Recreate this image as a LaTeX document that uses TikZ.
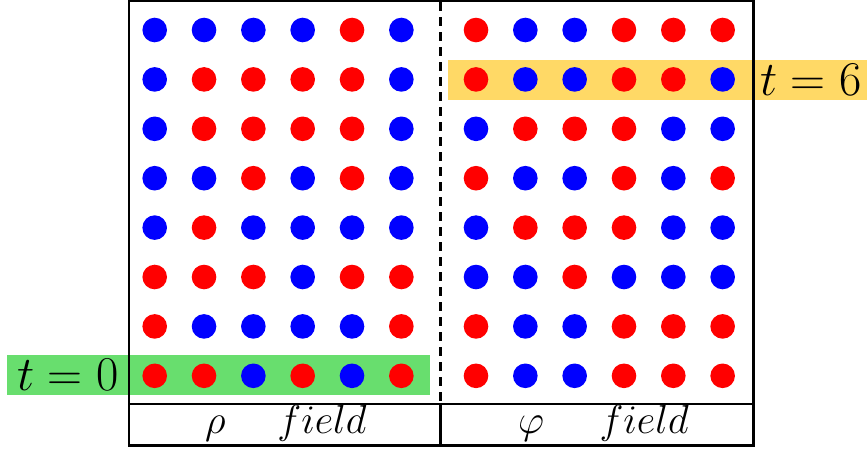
\documentclass[tikz,border=0pt]{standalone}
\usepackage{fix-cm}
\usetikzlibrary{calc}
\definecolor{dotR}{RGB}{255,0,0}
\definecolor{dotB}{RGB}{0,0,255}
\definecolor{bandgreen}{RGB}{104,222,110}
\definecolor{bandyellow}{RGB}{255,217,102}
\tikzset{
  frame/.style={line width=2.4pt, draw=black},
  sep/.style={line width=2.4pt, dash pattern=on 8.5pt off 6.5pt},
  bigtext/.style={inner sep=0pt, font=\fontsize{48.5}{52}\selectfont},
  lbltext/.style={inner sep=0pt, font=\fontsize{40.5}{44}\selectfont},
  dotstyle/.style={radius=12.3pt},
}
\begin{document}
\begin{tikzpicture}[x=1pt,y=-1pt]
\useasboundingbox (0,0) rectangle (867,448);
% highlight bands
\fill[bandgreen] (7,354.5) rectangle (430,395);
\fill[bandyellow] (448,59.5) rectangle (867,100);
% frame
\draw[frame] (129,1.2) rectangle (753.5,445.5);
\draw[frame] (129,404) -- (753.5,404);
\draw[frame] (440.5,404) -- (440.5,445.5);
\draw[sep] (440.5,2) -- (440.5,404);
% rho field dots
\foreach \row [count=\r] in {{B,B,B,B,R,B},{B,R,R,R,R,B},{B,R,R,R,R,B},{B,B,R,B,R,B},{B,R,B,B,B,B},{R,R,R,B,R,R},{R,B,B,B,B,R},{R,R,B,R,B,R}}{
  \foreach \c [count=\k] in \row {
    \fill[dot\c, dotstyle] ({154.7+(\k-1)*49.33},{30+(\r-1)*49.4}) circle;
  }
}
% phi field dots
\foreach \row [count=\r] in {{R,B,B,R,R,R},{R,B,B,R,R,B},{B,R,R,R,B,B},{R,B,B,R,B,R},{B,R,R,R,B,B},{B,B,R,B,B,B},{R,B,B,R,R,R},{R,B,B,R,R,R}}{
  \foreach \c [count=\k] in \row {
    \fill[dot\c, dotstyle] ({476+(\k-1)*49.33},{30+(\r-1)*49.4}) circle;
  }
}
% labels
\node[bigtext, anchor=base west] (t0) at (17,390.5) {$t=0$};
\node[bigtext, anchor=base west] (t6) at (760,95.5) {$t=6$};
\node[lbltext, anchor=base west] (rho) at (205,433) {$\rho\hspace{1.28em}field$};
\node[lbltext, anchor=base west] (phi) at (518,433) {$\varphi\hspace{1.37em}field$};
\end{tikzpicture}
\end{document}
